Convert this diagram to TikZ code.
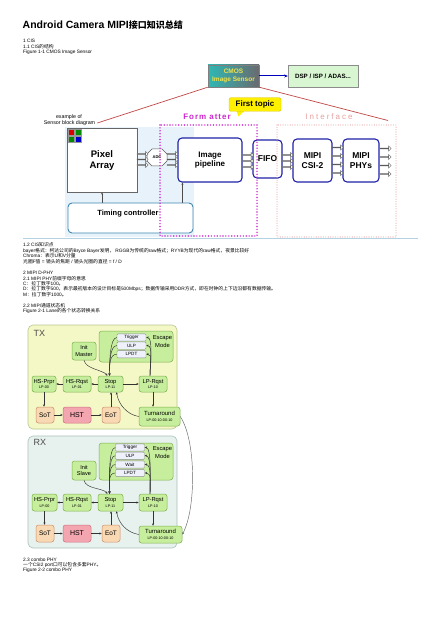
\documentclass[tikz,border=0pt]{standalone}
\usepackage{fontspec}
\setmainfont{Liberation Sans}
\newfontfamily\cjk{Noto Sans CJK SC}
\usetikzlibrary{shapes.arrows,shapes.misc,arrows.meta}
\newcommand{\zh}[1]{{\cjk #1}}
\definecolor{bgblue}{HTML}{E8F2FA}
\definecolor{pipeB}{HTML}{1F22A8}
\definecolor{tcB}{HTML}{3C86B0}
\definecolor{magD}{HTML}{D028D0}
\definecolor{pinkD}{HTML}{E8A0A0}
\definecolor{redL}{HTML}{C04848}
\definecolor{cmosT}{HTML}{2FB8B4}
\definecolor{cmosG}{HTML}{6A6A70}
\definecolor{cmosY}{HTML}{F2E24A}
\definecolor{dspF}{HTML}{D9F6D3}
\definecolor{ftY}{HTML}{FFF000}
\definecolor{ftB}{HTML}{D8C400}
\definecolor{txF}{HTML}{F4F7C6}
\definecolor{txB}{HTML}{B6C890}
\definecolor{rxF}{HTML}{E7F1EE}
\definecolor{rxB}{HTML}{A9C3BA}
\definecolor{stF}{HTML}{C6EE9C}
\definecolor{stB}{HTML}{7EB24E}
\definecolor{escF}{HTML}{EEF0FA}
\definecolor{peF}{HTML}{F8D9B4}
\definecolor{peB}{HTML}{D0906C}
\definecolor{hsF}{HTML}{F4A6B0}
\definecolor{hsB}{HTML}{D07080}
\definecolor{lineB}{HTML}{B4D2E2}
\tikzset{
  small/.style={anchor=west, inner sep=0, font=\fontsize{4.8}{5}\selectfont},
  harr/.style={single arrow, draw=black!65, fill=white, line width=0.4, minimum height=11, minimum width=5.2, single arrow head extend=1.3, inner sep=0},
  bluebox/.style={draw=pipeB, line width=1.1, rounded corners=4, fill=white, inner sep=0, align=center, font=\bfseries\fontsize{8}{9.5}\selectfont},
  magdot/.style={draw=magD, line width=1.6, line cap=round, dash pattern=on 0pt off 2.9pt},
  pinkdot/.style={draw=pinkD, line width=1.1, line cap=round, dash pattern=on 0pt off 2.4pt},
  redl/.style={draw=redL, line width=0.7},
  tarr/.style={draw=black!70, line width=0.4, -{Stealth[length=2.2pt,width=2pt]}},
  st/.style={draw=stB, fill=stF, rounded corners=2.5, line width=0.5, inner sep=0, align=center, font=\fontsize{5.8}{5.4}\selectfont},
  pe/.style={st, draw=peB, fill=peF, font=\fontsize{6.5}{6.5}\selectfont},
  hs/.style={st, draw=hsB, fill=hsF, font=\fontsize{7}{7}\selectfont},
  esc/.style={draw=black!45, fill=escF, rounded corners=1, line width=0.4, minimum width=29, minimum height=7.2, inner sep=0, font=\fontsize{4.6}{4.6}\selectfont},
  sarr/.style={draw=black!80, line width=0.45, -{Stealth[length=2.4pt,width=2.1pt]}},
}
\newcommand{\lpc}[1]{{\fontsize{3.7}{4}\selectfont #1}}
\begin{document}
\begin{tikzpicture}[x=1pt,y=-1pt]
\useasboundingbox (0,0) rectangle (440,620);
\fill[white] (0,0) rectangle (440,620);
% ---------- header text
\node[anchor=west, inner sep=0, font=\bfseries\fontsize{10.5}{12}\selectfont] (title) at (22.5,25.5) {Android Camera MIPI{\cjk\bfseries\fontsize{9}{12}\selectfont 接口知识总结}};
\node[small] (t1) at (23,41) {1 CIS};
\node[small] (t2) at (23,46.6) {1.1 CIS\zh{的结构}};
\node[small] (t3) at (23,52.3) {Figure 1-1 CMOS Image Sensor};
% ---------- figure 1
\fill[bgblue] (65,127) rectangle (194,237);
\node[draw=black!60, fill=white, line width=0.6, minimum width=70, minimum height=64, inner sep=0] (pix) at (102,160) {};
\node[align=center, inner sep=0, font=\bfseries\fontsize{9.5}{11}\selectfont] (pixt) at (102,161) {Pixel\\Array};
\filldraw[fill=red!85!black, draw=black!40, line width=0.3] (68.3,129.3) rectangle (74.5,135.5);
\filldraw[fill=green!55!black, draw=black!40, line width=0.3] (75.2,129.3) rectangle (81.5,135.5);
\filldraw[fill=green!55!black, draw=black!40, line width=0.3] (68.3,136.3) rectangle (74.5,142.5);
\filldraw[fill=blue!80!black, draw=black!40, line width=0.3] (75.2,136.3) rectangle (81.5,142.5);
\node[chamfered rectangle, chamfered rectangle xsep=2pt, draw=black!65, fill=white, line width=0.5, minimum width=20, minimum height=17, inner sep=0, font=\bfseries\fontsize{4}{4}\selectfont] (adc) at (157,157.5) {ADC};
\node[bluebox, minimum width=64, minimum height=44] (pipe) at (210,160) {Image\\pipeline};
\node[bluebox, minimum width=29, minimum height=38, font=\bfseries\fontsize{8.5}{9}\selectfont] (fifo) at (267.5,159) {FIFO};
\node[bluebox, minimum width=39, minimum height=43, font=\bfseries\fontsize{8.5}{10}\selectfont] (csi) at (312.5,160.5) {MIPI\\CSI-2};
\node[bluebox, minimum width=36, minimum height=43, font=\bfseries\fontsize{8.5}{10}\selectfont] (phy) at (361,160.5) {MIPI\\PHYs};
\node[draw=tcB, line width=0.9, rounded corners=4, fill=white, minimum width=125, minimum height=30, inner sep=0] (tc) at (130.5,218) {};
\node[inner sep=0, font=\bfseries\fontsize{7.5}{8}\selectfont] (tct) at (128,214) {Timing controller};
\coordinate (pa) at ([xshift=5]pipe.south west);
\draw[tarr] (pix.south |- tc.north) -- (pix.south);
\draw[tarr] (pa |- tc.north) -- (pa);
% hollow arrows
\foreach \y [count=\i] in {154,159.5,165} {
  \node[harr] (ha\i) at (142.5,\y) {};
  \node[harr] (hb\i) at (172.5,\y) {};
}
\foreach \y [count=\i] in {155,161,167} {
  \node[harr] (hc\i) at (248,\y) {};
  \node[harr] (hd\i) at (287.5,\y) {};
}
\foreach \y [count=\i] in {147.5,156,164.5,173} {
  \node[harr] (he\i) at (337.5,\y) {};
  \node[harr] (hf\i) at (385.5,\y+1) {};
}
% dotted frames
\draw[magdot] (160,125) rectangle (257,236);
\draw[pinkdot] (277,125) rectangle (396,237);
\node[inner sep=0, text=magD, font=\bfseries\fontsize{8}{8}\selectfont\addfontfeature{LetterSpace=12}] (fmt) at (207,117) {Form atter};
\node[inner sep=0, text=pinkD, font=\fontsize{8}{8}\selectfont\addfontfeature{LetterSpace=25}] (intf) at (329,117) {Interface};
% cmos & dsp
\node[left color=cmosT, right color=cmosG, draw=black!50, line width=0.4, minimum width=51, minimum height=22, inner sep=0, align=center, text=cmosY, font=\bfseries\fontsize{6.5}{7.5}\selectfont] (cmos) at (233.5,76) {CMOS\\Image Sensor};
\node[fill=dspF, draw=black!45, line width=0.4, minimum width=70, minimum height=22, inner sep=0, font=\bfseries\fontsize{6.2}{7}\selectfont] (dsp) at (323,76) {DSP / ISP / ADAS...};
\draw[draw=blue!75!black, line width=1, -{Stealth[length=3.5pt,width=3pt]}] (cmos.east) -- (dsp.west);
\node[inner sep=0, font=\fontsize{5.3}{5.5}\selectfont] (exo) at (69,117) {example of};
\node[inner sep=0, font=\fontsize{5.3}{5.5}\selectfont] (sbd) at (69.5,123) {Sensor block diagram};
\coordinate (pinkTR) at (388,120.5);
\draw[redl] ([xshift=2]sbd.east) -- (cmos.south west);
\draw[redl] (cmos.south east) -- (pinkTR);
\fill[ftY] (236,110) -- (238.5,116.5) -- (245,110) -- cycle;
\node[fill=ftY, draw=ftB, line width=0.4, rounded corners=1.5, minimum width=52, minimum height=13.5, inner sep=0, font=\bfseries\fontsize{8}{8}\selectfont] (ftp) at (255,104.5) {First topic};
\draw[draw=lineB, line width=0.8] (23,238.6) -- (418,238.6);
% ---------- middle text
\node[small] (m1) at (23,245) {1.2 CIS\zh{知识点}};
\node[small] (m2) at (23,250.6) {bayer\zh{格式：柯达公司的}Bryce Bayer\zh{发明，} RGGB\zh{为传统的}raw\zh{格式；}RYYB\zh{为现代的}raw\zh{格式，夜景比较好}};
\node[small] (m3) at (23,256) {Chroma\zh{：表示}U\zh{和}V\zh{分量}};
\node[small] (m4) at (23,261.3) {\zh{光圈}F\zh{值} = \zh{镜头的焦距} / \zh{镜头光圈的直径} = f / D};
\node[small] (m5) at (23,273) {2 MIPI D-PHY};
\node[small] (m6) at (23,278.5) {2.1 MIPI PHY\zh{前缀字母的意思}};
\node[small] (m7) at (23,284) {C\zh{：拉丁数字}100\zh{。}};
\node[small] (m8) at (23,289.3) {D\zh{：拉丁数字}500\zh{，表示最初版本的设计目标是}500Mbps\zh{；数据传输采用}DDR\zh{方式，即在时钟的上下边沿都有数据传输。}};
\node[small] (m9) at (23,294.6) {M\zh{：拉丁数字}1000\zh{。}};
\node[small] (m10) at (23,306) {2.2 MIPI\zh{通道状态机}};
\node[small] (m11) at (23,311.3) {Figure 2-1 Lane\zh{的各个状态转换关系}};
% ---------- figure 2 : TX
\node[draw=txB, fill=txF, rounded corners=5, line width=0.6, minimum width=149, minimum height=104, inner sep=0] (tx) at (102.5,377) {};
\node[anchor=west, inner sep=0, text=black!70, font=\fontsize{9}{9}\selectfont] (txl) at (33.5,333.5) {TX};
\node[st, rounded corners=3, minimum width=74, minimum height=31] (tesc) at (136,346.5) {};
\node[inner sep=0, align=center, font=\fontsize{5.8}{8}\selectfont] (tesct) at (162.5,342) {Escape\\Mode};
\node[esc] (ttrig) at (131.5,337.5) {Trigger};
\node[esc] (tulp) at (131.5,345.6) {ULP};
\node[esc] (tlpdt) at (131.5,354.2) {LPDT};
\node[st, minimum width=24, minimum height=18, font=\fontsize{5.6}{6.6}\selectfont] (tinit) at (84,351) {Init\\Master};
\node[st, minimum width=24, minimum height=16] (thsp) at (44,384) {HS-Prpr\\\lpc{LP-00}};
\node[st, minimum width=28, minimum height=16] (thsr) at (77,384) {HS-Rqst\\\lpc{LP-01}};
\node[st, minimum width=25, minimum height=16] (tstop) at (110.5,384) {Stop\\\lpc{LP-11}};
\node[st, minimum width=28, minimum height=16] (tlpr) at (153,384) {LP-Rqst\\\lpc{LP-10}};
\node[pe, minimum width=18, minimum height=16] (tsot) at (45,415) {SoT};
\node[hs, minimum width=28, minimum height=16] (thst) at (77,415) {HST};
\node[pe, minimum width=18, minimum height=16] (teot) at (111,415) {EoT};
\node[st, minimum width=41, minimum height=19, font=\fontsize{6}{6}\selectfont] (tturn) at (159.5,416.5) {Turnaround\\[-0.3pt]\lpc{LP-00-10-00-10}};
\draw[sarr] (tstop) -- (thsr);
\draw[sarr] (thsr) -- (thsp);
\draw[sarr] (thsp.south) -- (thsp.south |- tsot.north);
\draw[sarr] (tsot) -- (thst);
\draw[sarr] (thst) -- (teot);
\draw[sarr] (teot.north) -- (teot.north |- tstop.south);
\draw[sarr] (tstop) -- (tlpr);
\draw[sarr] (tlpr.south) -- (tlpr.south |- tturn.north);
\draw[sarr] (tturn.west) .. controls +(-12,-2) and +(2,12) .. ([xshift=6]tstop.south);
\draw[sarr] (tinit.south) .. controls +(2,9) and +(-5,-6) .. ([xshift=-3]tstop.north);
\foreach \e in {ttrig,tulp,tlpdt} {
  \draw[sarr] ([xshift=-3]tlpr.north) .. controls +(0,-12) and +(7,0) .. (\e.east);
  \draw[sarr] (\e.west) .. controls +(-7,0) and +(0,-12) .. ([xshift=-1]tstop.north);
}
% ---------- figure 2 : RX
\node[draw=rxB, fill=rxF, rounded corners=5, line width=0.6, minimum width=149, minimum height=112, inner sep=0] (rx) at (102.5,492) {};
\node[anchor=west, inner sep=0, text=black!70, font=\fontsize{9}{9}\selectfont] (rxl) at (33.5,442.5) {RX};
\node[st, rounded corners=3, minimum width=74, minimum height=37] (resc) at (136,461.5) {};
\node[inner sep=0, align=center, font=\fontsize{5.8}{8.5}\selectfont] (resct) at (162.5,452.5) {Escape\\Mode};
\node[esc] (rtrig) at (130,447.5) {Trigger};
\node[esc] (rulp) at (130,455.7) {ULP};
\node[esc] (rwait) at (130,464.5) {Wait};
\node[esc] (rlpdt) at (130,473) {LPDT};
\node[st, minimum width=24, minimum height=19, font=\fontsize{5.6}{6.6}\selectfont] (rinit) at (84,470.5) {Init\\Slave};
\node[st, minimum width=25, minimum height=17] (rhsp) at (44.5,502.5) {HS-Prpr\\\lpc{LP-00}};
\node[st, minimum width=28, minimum height=17] (rhsr) at (77,502.5) {HS-Rqst\\\lpc{LP-01}};
\node[st, minimum width=25, minimum height=17] (rstop) at (110.5,502.5) {Stop\\\lpc{LP-11}};
\node[st, minimum width=28, minimum height=17] (rlpr) at (153,502.5) {LP-Rqst\\\lpc{LP-10}};
\node[pe, minimum width=18, minimum height=17] (rsot) at (45,533.5) {SoT};
\node[hs, minimum width=28, minimum height=17] (rhst) at (77,533.5) {HST};
\node[pe, minimum width=18, minimum height=17] (reot) at (111,533.5) {EoT};
\node[st, minimum width=43, minimum height=17, font=\fontsize{6}{6}\selectfont] (rturn) at (160.5,534.5) {Turnaround\\[-0.3pt]\lpc{LP-00-10-00-10}};
\draw[sarr] (rstop) -- (rhsr);
\draw[sarr] (rhsr) -- (rhsp);
\draw[sarr] (rhsp.south) -- (rhsp.south |- rsot.north);
\draw[sarr] (rsot) -- (rhst);
\draw[sarr] (rhst) -- (reot);
\draw[sarr] (reot.north) -- (reot.north |- rstop.south);
\draw[sarr] (rstop) -- (rlpr);
\draw[sarr] (rlpr.south) -- (rlpr.south |- rturn.north);
\draw[sarr] (rturn.west) .. controls +(-12,-2) and +(2,12) .. ([xshift=6]rstop.south);
\draw[sarr] (rinit.south) .. controls +(2,9) and +(-5,-6) .. ([xshift=-3]rstop.north);
\foreach \e in {rtrig,rulp,rwait,rlpdt} {
  \draw[sarr] ([xshift=-3]rlpr.north) .. controls +(0,-12) and +(7,0) .. (\e.east);
  \draw[sarr] (\e.west) .. controls +(-7,0) and +(0,-12) .. ([xshift=-1]rstop.north);
}
\draw[sarr, draw=black!60] (tturn.east) .. controls +(16,24) and +(14,-26) .. (rturn.east);
% ---------- bottom text
\node[small] (b1) at (23,559.3) {2.3 combo PHY};
\node[small] (b2) at (23,565) {\zh{一个}CSI2 port\zh{口可以包含多套}PHY\zh{。}};
\node[small] (b3) at (23,570.6) {Figure 2-2 combo PHY};
\end{tikzpicture}
\end{document}
